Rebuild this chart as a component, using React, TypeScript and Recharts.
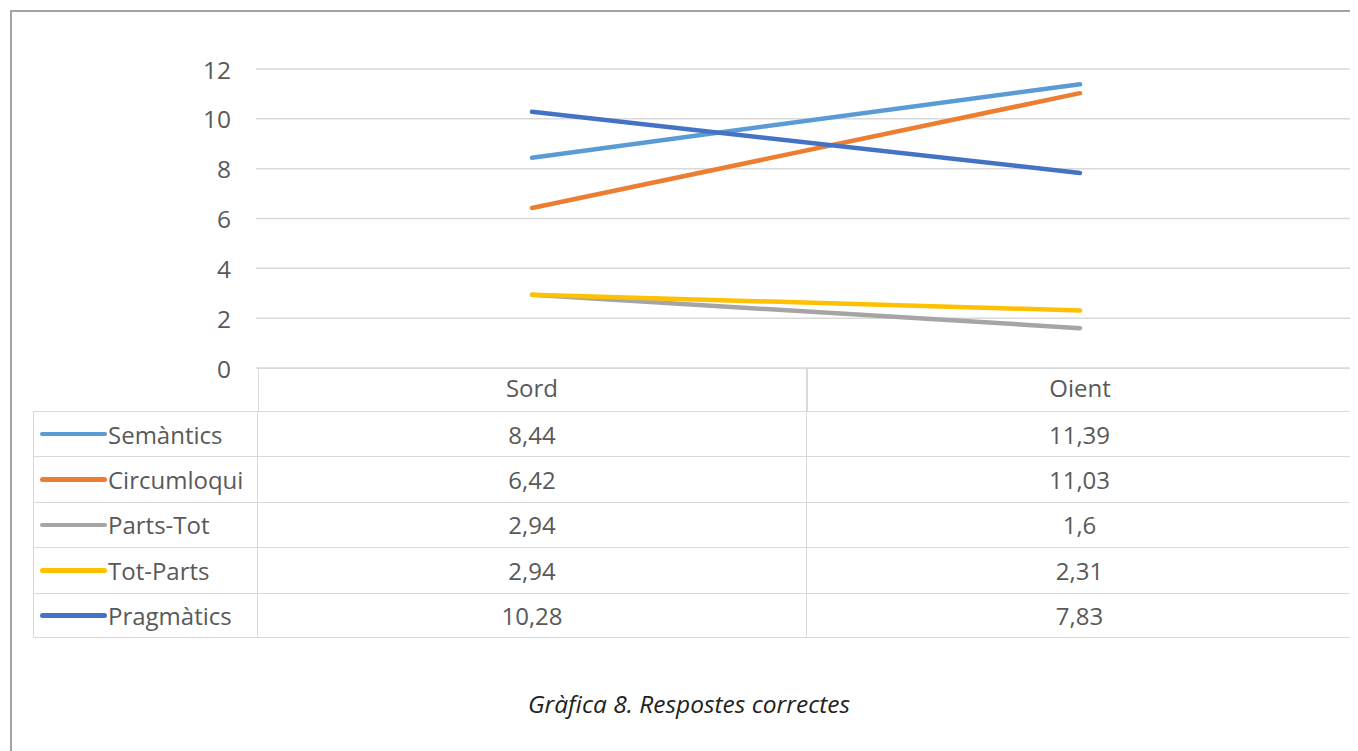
import React from "react";
import { LineChart, Line, XAxis, YAxis, CartesianGrid } from "recharts";

const categories = ["Sord", "Oient"];
const seriesNames = ["Semàntics", "Circumloqui", "Parts-Tot", "Tot-Parts", "Pragmàtics"];
const semantics = [8.44, 11.39];
const circumloqui = [6.42, 11.03];
const partsTot = [2.94, 1.6];
const totParts = [2.94, 2.31];
const pragmatics = [10.28, 7.83];
const seriesValues = [semantics, circumloqui, partsTot, totParts, pragmatics];
const seriesLabels = [
  ["8,44", "11,39"],
  ["6,42", "11,03"],
  ["2,94", "1,6"],
  ["2,94", "2,31"],
  ["10,28", "7,83"],
];
const yTicks = [0, 2, 4, 6, 8, 10, 12];
const colors = ["#5B9BD5", "#ED7D31", "#A5A5A5", "#FFC000", "#4472C4"];
const caption = "Gràfica 8. Respostes correctes";

const keys = ["s0", "s1", "s2", "s3", "s4"];
const data = categories.map((c, i) => {
  const row: any = { name: c };
  seriesValues.forEach((vals, k) => {
    row[keys[k]] = vals[i];
  });
  return row;
});

const FONT = "'Open Sans', sans-serif";
const TEXT = "#595959";
const GRID = "#d9d9d9";

const YTick = (props: any) => {
  const { x, y, payload } = props;
  return (
    <text x={x - 17} y={y} textAnchor="end" dominantBaseline="central" fill={TEXT} fontSize={24.5} fontFamily={FONT}>
      {payload.value}
    </text>
  );
};

const XTick = (props: any) => {
  const { x, y, payload } = props;
  return (
    <text x={x} y={y + 11} textAnchor="middle" dominantBaseline="central" fill={TEXT} fontSize={24} fontFamily={FONT}>
      {payload.value}
    </text>
  );
};

export default function App() {
  const col0L = 25;
  const col1L = 250;
  const col2L = 798;
  const right = 1345;
  const headTop = 360;
  const headBottom = 403;
  const rowH = 45.4;

  const cellStyle: React.CSSProperties = {
    position: "absolute",
    display: "flex",
    alignItems: "center",
    justifyContent: "center",
    fontFamily: FONT,
    fontSize: 24,
    color: TEXT,
    boxSizing: "border-box",
  };

  return (
    <div style={{ position: "relative", width: 1350, height: 743, overflow: "hidden", background: "#fff" }}>
      <div
        style={{
          position: "absolute",
          left: 2,
          top: 2,
          width: 1500,
          height: 900,
          borderTop: "2px solid #a3a3a3",
          borderLeft: "2px solid #a3a3a3",
        }}
      />
      <div style={{ position: "absolute", left: 0, top: 0 }}>
        <LineChart width={1350} height={403} data={data} margin={{ top: 61, right: 5, left: 0, bottom: 0 }}>
          <CartesianGrid vertical={false} stroke={GRID} strokeWidth={1.5} />
          <XAxis
            dataKey="name"
            axisLine={false}
            tickLine={false}
            height={43}
            padding={{ left: 276, right: 273 }}
            tick={<XTick />}
            interval={0}
          />
          <YAxis
            domain={[0, 12]}
            ticks={yTicks}
            axisLine={false}
            tickLine={false}
            width={248}
            tick={<YTick />}
            interval={0}
          />
          {keys.map((k, i) => (
            <Line
              key={k}
              type="linear"
              dataKey={k}
              stroke={colors[i]}
              strokeWidth={4.5}
              strokeLinecap="round"
              dot={false}
              activeDot={false}
              isAnimationActive={false}
            />
          ))}
        </LineChart>
      </div>

      {/* Header row borders */}
      <div
        style={{
          position: "absolute",
          left: col1L,
          top: headTop,
          width: right - col1L,
          height: headBottom - headTop,
          borderTop: `1.5px solid ${GRID}`,
          borderLeft: `1.5px solid ${GRID}`,
          borderRight: `1.5px solid ${GRID}`,
          boxSizing: "border-box",
        }}
      />
      <div style={{ position: "absolute", left: col2L, top: headTop, width: 1.5, height: headBottom - headTop, background: GRID }} />

      {/* Body rows */}
      {seriesNames.map((name, r) => {
        const top = headBottom + r * rowH;
        const last = r === seriesNames.length - 1;
        return (
          <React.Fragment key={name}>
            <div
              style={{
                ...cellStyle,
                left: col0L,
                top,
                width: col1L - col0L,
                height: rowH,
                justifyContent: "flex-start",
                borderTop: `1.5px solid ${GRID}`,
                borderLeft: `1.5px solid ${GRID}`,
                borderRight: `1.5px solid ${GRID}`,
                borderBottom: last ? `1.5px solid ${GRID}` : "none",
              }}
            >
              <div style={{ marginLeft: 6, width: 67, height: 4.5, borderRadius: 3, background: colors[r] }} />
              <span style={{ marginLeft: 1 }}>{name}</span>
            </div>
            <div
              style={{
                ...cellStyle,
                left: col1L,
                top,
                width: col2L - col1L,
                height: rowH,
                borderTop: `1.5px solid ${GRID}`,
                borderBottom: last ? `1.5px solid ${GRID}` : "none",
              }}
            >
              {seriesLabels[r][0]}
            </div>
            <div
              style={{
                ...cellStyle,
                left: col2L,
                top,
                width: right - col2L,
                height: rowH,
                borderTop: `1.5px solid ${GRID}`,
                borderLeft: `1.5px solid ${GRID}`,
                borderRight: `1.5px solid ${GRID}`,
                borderBottom: last ? `1.5px solid ${GRID}` : "none",
              }}
            >
              {seriesLabels[r][1]}
            </div>
          </React.Fragment>
        );
      })}

      <div
        style={{
          position: "absolute",
          left: 0,
          width: 1362,
          top: 679,
          height: 34,
          textAlign: "center",
          fontFamily: FONT,
          fontStyle: "italic",
          fontSize: 24.5,
          color: "#231f20",
          lineHeight: "34px",
        }}
      >
        {caption}
      </div>
    </div>
  );
}
